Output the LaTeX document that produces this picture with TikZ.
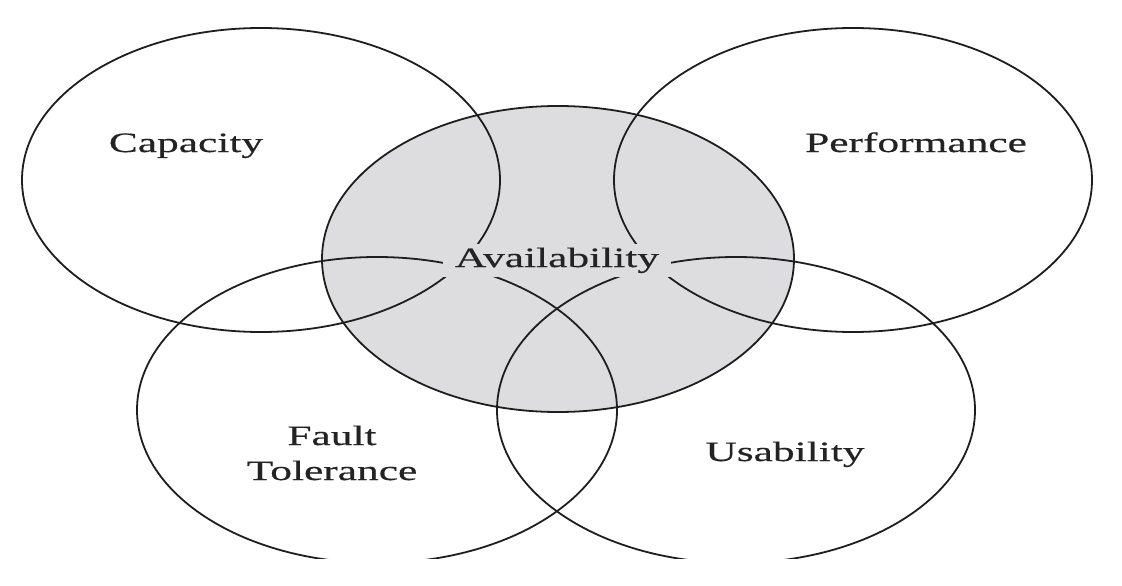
\documentclass[tikz,border=0pt]{standalone}
\usepackage{fontspec}
\setmainfont[FakeStretch=1.55,FakeBold=0.5]{Liberation Serif}
\usetikzlibrary{shapes.geometric}
\definecolor{availgray}{RGB}{221,221,223}
\definecolor{linecol}{RGB}{30,30,30}
\definecolor{textcol}{RGB}{35,35,35}
\begin{document}
\begin{tikzpicture}[x=1pt,y=-1pt,
  venn/.style={ellipse, draw=linecol, line width=1.8pt, inner sep=0pt, outer sep=0pt},
  lbl/.style={text=textcol, font=\fontsize{28}{35}\selectfont, inner sep=0pt, anchor=base}]
\useasboundingbox (0,0) rectangle (1122,586);
\fill[white] (0,0) rectangle (1122,586);
\begin{scope}
  \clip (0,0) rectangle (1122,558);
  \node[venn, fill=availgray, minimum width=472pt, minimum height=306pt] (avail) at (558,259) {};
  \node[venn, minimum width=478pt, minimum height=304pt] (cap) at (261,180) {};
  \node[venn, minimum width=478pt, minimum height=304pt] (perf) at (853,180) {};
  \node[venn, minimum width=480pt, minimum height=306pt] (fault) at (377,410) {};
  \node[venn, minimum width=478pt, minimum height=306pt] (usab) at (736,410) {};
\end{scope}
\node[lbl] (capl) at (186,152) {Capacity};
\node[lbl] (perfl) at (916,152) {Performance};
\node[lbl, fill=availgray, inner xsep=12pt, inner ysep=4pt] (availl) at (557,267) {Availability};
\node[lbl, align=center] (faultl) at (332,480) {Fault\\Tolerance};
\node[lbl] (usabl) at (785,461) {Usability};
\end{tikzpicture}
\end{document}
